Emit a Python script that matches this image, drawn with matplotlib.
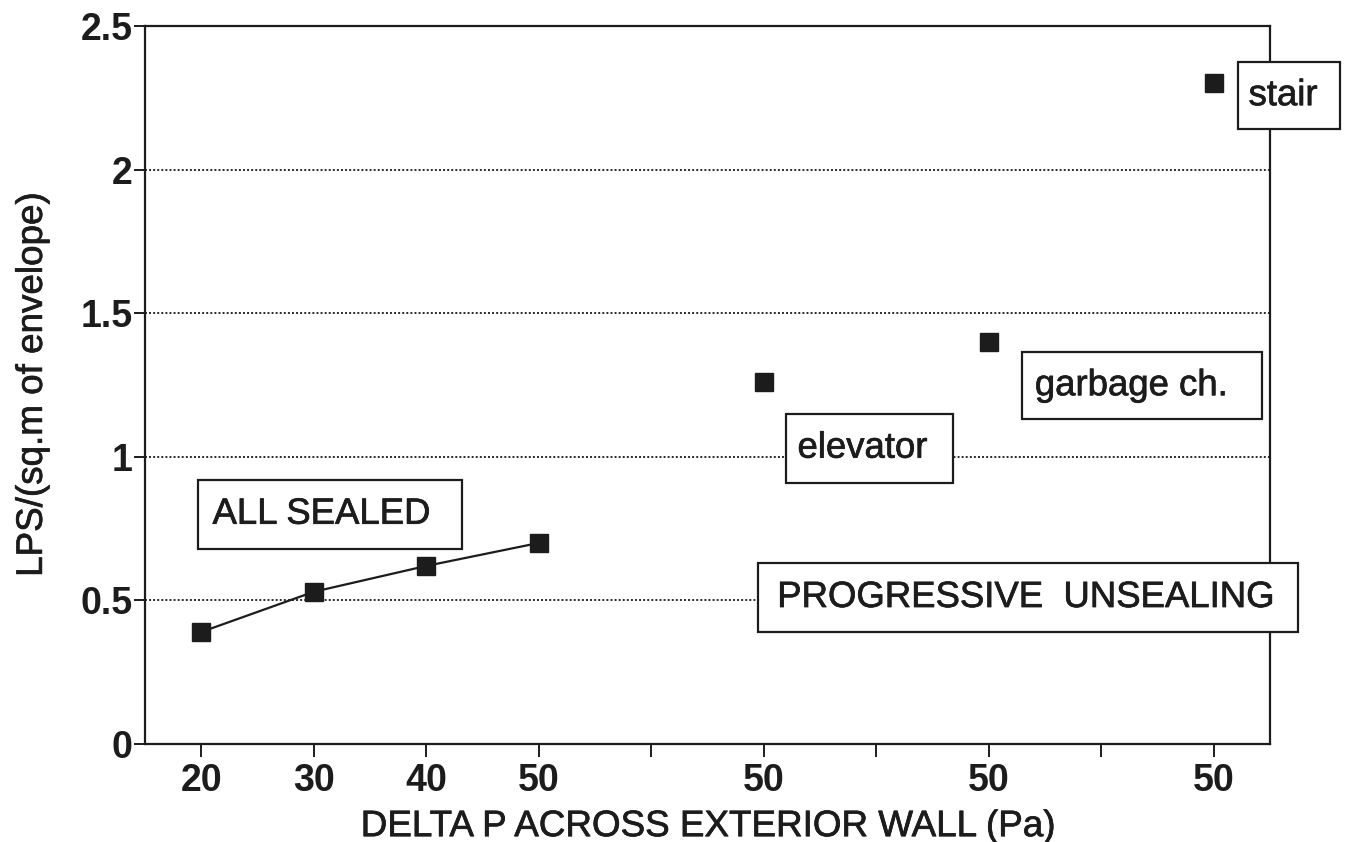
import matplotlib
matplotlib.use("Agg")
import matplotlib.pyplot as plt
import matplotlib.patches as patches
import matplotlib.patheffects as pe

# x axis is categorical: sealed steps, then one slot per unsealed shaft
tick_labels = ["20", "30", "40", "50", "", "50", "", "50", "", "50"]

sealed_pos = [0, 1, 2, 3]
sealed_lps = [0.39, 0.53, 0.62, 0.70]

unseal_names = ["elevator", "garbage ch.", "stair"]
unseal_pos = [5, 7, 9]
unseal_lps = [1.26, 1.40, 2.30]

y_ticks = [0, 0.5, 1, 1.5, 2, 2.5]
y_tick_labels = ["0", "0.5", "1", "1.5", "2", "2.5"]

plt.rcParams["font.family"] = ["Liberation Sans", "DejaVu Sans"]

INK = "#1c1c1c"
heavy = [pe.withStroke(linewidth=0.5, foreground=INK)]


def label_box(ax, x0, y0, x1, y1, text, pad):
    # white framed label drawn over grid and spines
    r = patches.Rectangle(xy=(x0, y0), width=x1 - x0, height=y1 - y0,
                          fc="white", ec=INK, lw=1.6, zorder=5, clip_on=False)
    ax.add_patch(r)
    ax.text(x0 + pad, (y0 + y1) / 2, text, fontsize=26.3, color=INK,
            ha="left", va="center", zorder=6, clip_on=False, path_effects=heavy)


fig = plt.figure(figsize=(13.48, 8.42), dpi=100)
ax = fig.add_axes([0.1076, 0.1164, 0.8345, 0.8527])
ax.set_xlim(-0.5, 9.5)
ax.set_ylim(0, 2.5)

# dotted grid
for v in y_ticks[1:-1]:
    ax.axhline(v, color="#2a2a2a", lw=1.4, ls=(0, (1, 1.1)), zorder=1)

ax.plot(sealed_pos, sealed_lps, color=INK, lw=1.6, zorder=3)
ax.plot(sealed_pos, sealed_lps, ls="none", marker="s", ms=13, color=INK, zorder=4)
ax.plot(unseal_pos, unseal_lps, ls="none", marker="s", ms=13, color=INK, zorder=4)

ax.set_xticks(range(len(tick_labels)))
ax.set_xticklabels(tick_labels, fontsize=27, fontweight="bold", color=INK)
ax.set_yticks(y_ticks)
ax.set_yticklabels(y_tick_labels, fontsize=27, fontweight="bold", color=INK)
ax.tick_params(axis="both", direction="out", width=1.4, color=INK)
ax.tick_params(axis="x", length=9, pad=5)
ax.tick_params(axis="y", length=8, pad=1)
for s in ax.spines.values():
    s.set_linewidth(1.6)
    s.set_color(INK)

ax.set_xlabel("DELTA P ACROSS EXTERIOR WALL (Pa)", fontsize=26.5, color=INK,
              labelpad=7, path_effects=heavy)
ax.set_ylabel("LPS/(sq.m of envelope)", fontsize=26.5, color=INK,
              labelpad=22, path_effects=heavy)

label_box(ax, -0.03, 0.68, 2.32, 0.92, "ALL SEALED", 0.13)
label_box(ax, 4.95, 0.39, 9.75, 0.63, "PROGRESSIVE  UNSEALING", 0.17)
label_box(ax, 5.20, 0.91, 6.68, 1.15, unseal_names[0], 0.10)
label_box(ax, 7.30, 1.13, 9.43, 1.365, unseal_names[1], 0.11)
label_box(ax, 9.22, 2.14, 10.12, 2.375, unseal_names[2], 0.09)

fig.savefig("out.png", dpi=100)
